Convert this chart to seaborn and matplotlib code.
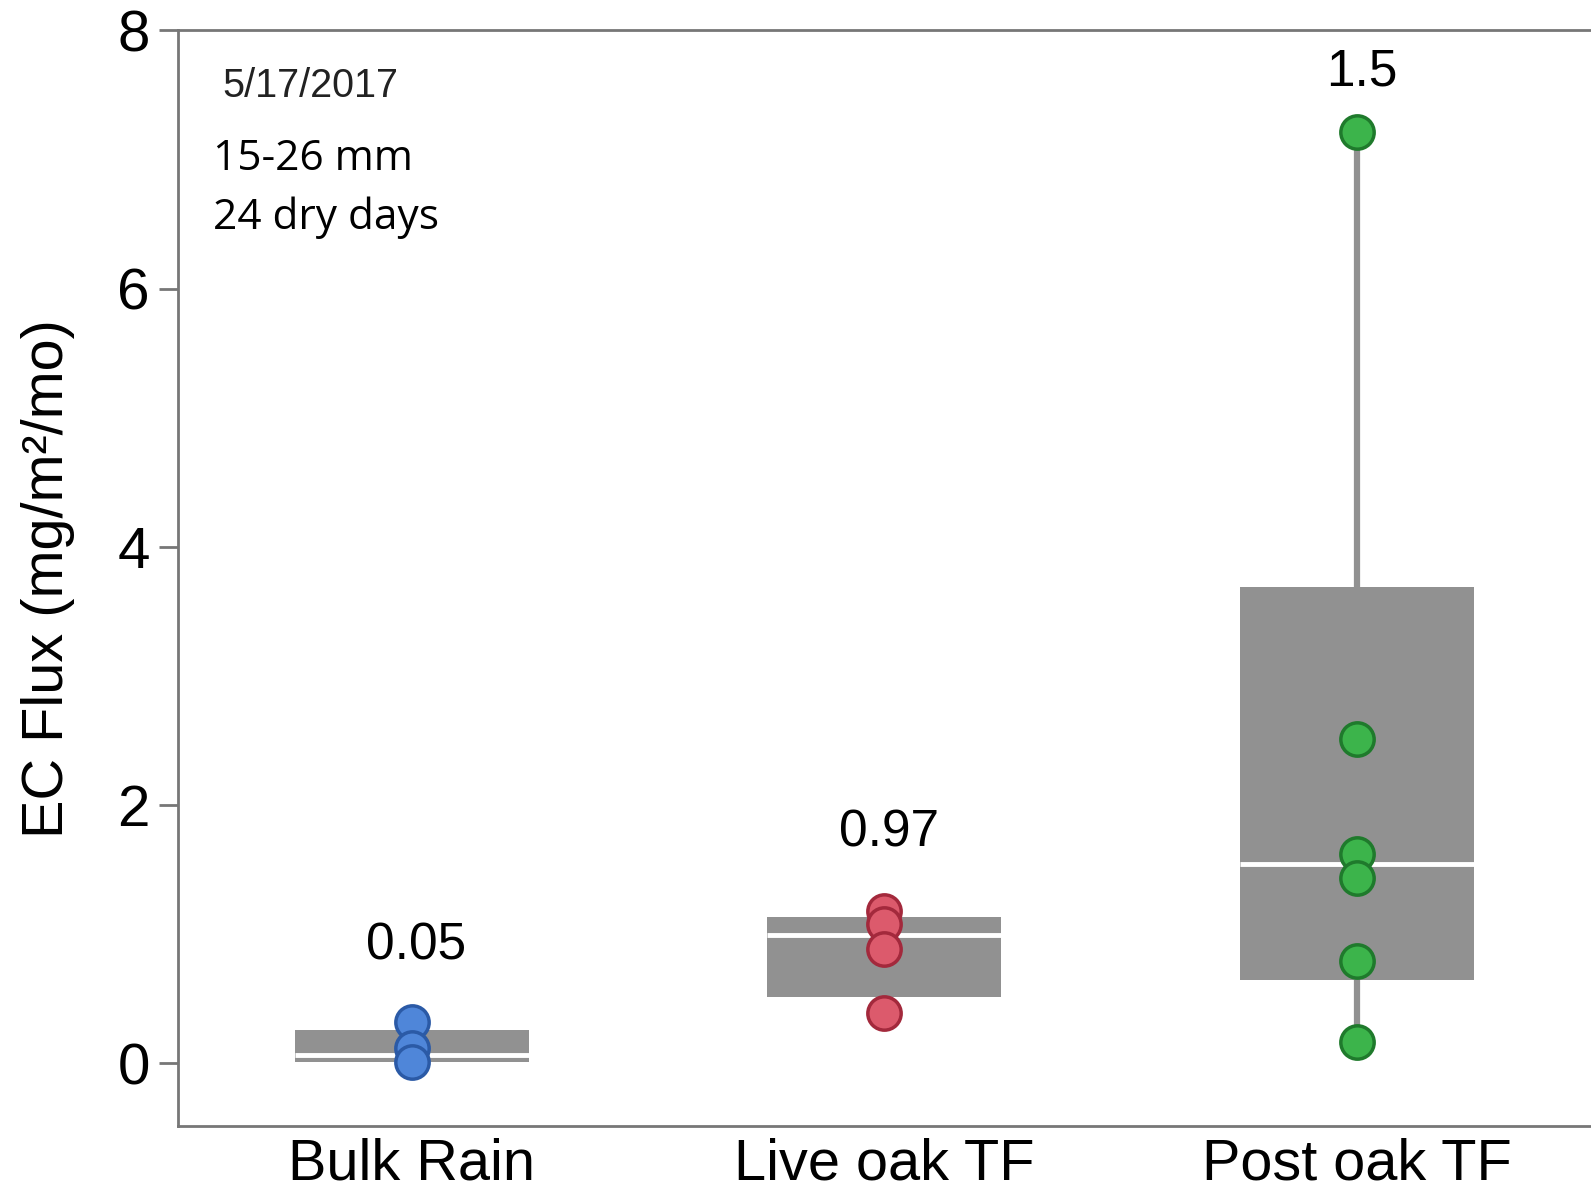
import numpy as np
import pandas as pd
import matplotlib
matplotlib.use("Agg")
import matplotlib.pyplot as plt
import seaborn as sns

# --- Data ---
groups = ["Bulk Rain", "Live oak TF", "Post oak TF"]
bulk_rain = [0.32, 0.12, 0.01]
live_oak = [1.18, 1.08, 0.88, 0.385]
post_oak = [7.21, 2.51, 1.62, 1.43, 0.79, 0.165]

# box statistics as drawn in the original
box_q1 = [0.01, 0.51, 0.64]
box_med = [0.06, 0.99, 1.54]
box_q3 = [0.26, 1.13, 3.69]
whisker_lo = [0.01, 0.51, 0.165]
whisker_hi = [0.26, 1.13, 7.21]
median_labels = ["0.05", "0.97", "1.5"]
label_y = [0.91, 1.78, 7.68]

point_colors = ["#4f86d9", "#dc5a6c", "#3cb44b"]
edge_colors = ["#2b5aa6", "#a3293c", "#1f7a2c"]

df = pd.DataFrame({
    "group": ["Bulk Rain"] * len(bulk_rain) + ["Live oak TF"] * len(live_oak)
             + ["Post oak TF"] * len(post_oak),
    "flux": bulk_rain + live_oak + post_oak,
})

# --- Plot ---
sns.set_style("white")
plt.rcParams["font.family"] = ["Liberation Sans", "DejaVu Sans"]
plt.rcParams["text.color"] = "black"
plt.rcParams["xtick.color"] = "black"
plt.rcParams["ytick.color"] = "black"
plt.rcParams["axes.labelcolor"] = "black"

fig = plt.figure(figsize=(15.91, 11.91), dpi=100)
ax = fig.add_axes([0.1116, 0.0543, 0.8884, 0.9202])

stats = []
for i, g in enumerate(groups):
    stats.append({"label": g, "q1": box_q1[i], "med": box_med[i], "q3": box_q3[i],
                  "whislo": whisker_lo[i], "whishi": whisker_hi[i], "fliers": []})

ax.bxp(stats, positions=range(len(groups)), widths=0.495, patch_artist=True,
       showcaps=False, showfliers=False,
       boxprops=dict(facecolor="#919191", edgecolor="#919191", linewidth=0),
       whiskerprops=dict(color="#919191", linewidth=4.5),
       medianprops=dict(color="white", linewidth=3.5),
       manage_ticks=False)

for i, g in enumerate(groups):
    sub = df[df["group"] == g]
    sns.stripplot(x=[i] * len(sub), y=sub["flux"], native_scale=True, jitter=False,
                  color=point_colors[i], edgecolor=edge_colors[i], linewidth=2.5,
                  size=24, ax=ax, zorder=5)

for i, lab in enumerate(median_labels):
    ax.text(i + 0.01, label_y[i], lab, ha="center", va="center", fontsize=37)

ax.text(-0.40, 7.57, "5/17/2017", ha="left", va="center", fontsize=28.5, color="#222222")
ax.text(-0.42, 7.0, "15-26 mm", ha="left", va="center", fontsize=30.5,
        family=["Open Sans", "DejaVu Sans"])
ax.text(-0.42, 6.55, "24 dry days", ha="left", va="center", fontsize=30.5,
        family=["Open Sans", "DejaVu Sans"])

ax.set_xlim(-0.495, 2.495)
ax.set_ylim(-0.49, 8)
ax.set_xticks(range(len(groups)))
ax.set_xticklabels(groups, fontsize=41.5)
ax.set_yticks([0, 2, 4, 6, 8])
ax.set_yticklabels(["0", "2", "4", "6", "8"], fontsize=42)
ax.set_xlabel("")
ax.set_ylabel("EC Flux (mg/m²/mo)", fontsize=41.5, labelpad=30)

ax.tick_params(axis="x", length=0, pad=8)
ax.tick_params(axis="y", length=14, width=2, color="#777777", pad=6, left=True)
for side in ["left", "bottom", "top"]:
    ax.spines[side].set_color("#777777")
    ax.spines[side].set_linewidth(2)
    ax.spines[side].set_visible(True)
ax.spines["right"].set_visible(False)

fig.savefig("out.png", dpi=100)
